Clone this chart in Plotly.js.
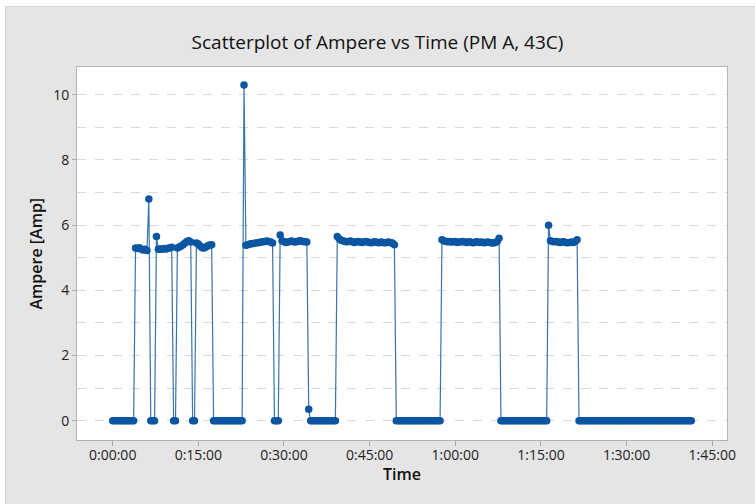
<!DOCTYPE html>
<html>
<head>
<meta charset="utf-8">
<script src="https://cdn.plot.ly/plotly-3.0.1.min.js"></script>
<style>
  html, body { margin: 0; padding: 0; background: #ffffff; }
  #frame { position: absolute; left: 5px; top: 6px; width: 750px; height: 498px;
           background: #e5e5e5; border-left: 1px solid #d2d2d2; border-top: 1px solid #d2d2d2; }
  #chart { position: absolute; left: 0; top: 0; width: 755px; height: 504px; }
</style>
</head>
<body>
<div id="frame"></div>
<div id="chart"></div>
<script>
// Elapsed time of each reading, in seconds
const timeSec = [
  0, 20, 40, 60, 80, 100, 120, 140, 160, 180, 200, 220, 240, 260, 280,
  300, 320, 340, 360, 380, 400, 420, 440, 460, 480, 500, 520, 540, 560, 580,
  600, 620, 640, 660, 680, 700, 720, 740, 760, 780, 800, 820, 840, 860, 880,
  900, 920, 940, 960, 980, 1000, 1020, 1040, 1060, 1080, 1100, 1120, 1140, 1160, 1180,
  1200, 1220, 1240, 1260, 1280, 1300, 1320, 1340, 1360, 1380, 1400, 1420, 1440, 1460, 1480,
  1500, 1520, 1540, 1560, 1580, 1600, 1620, 1640, 1660, 1680, 1700, 1720, 1740, 1760, 1780,
  1800, 1820, 1840, 1860, 1880, 1900, 1920, 1940, 1960, 1980, 2000, 2020, 2040, 2060, 2080,
  2100, 2120, 2140, 2160, 2180, 2200, 2220, 2240, 2260, 2280, 2300, 2320, 2340, 2360, 2380,
  2400, 2420, 2440, 2460, 2480, 2500, 2520, 2540, 2560, 2580, 2600, 2620, 2640, 2660, 2680,
  2700, 2720, 2740, 2760, 2780, 2800, 2820, 2840, 2860, 2880, 2900, 2920, 2940, 2960, 2980,
  3000, 3020, 3040, 3060, 3080, 3100, 3120, 3140, 3160, 3180, 3200, 3220, 3240, 3260, 3280,
  3300, 3320, 3340, 3360, 3380, 3400, 3420, 3440, 3460, 3480, 3500, 3520, 3540, 3560, 3580,
  3600, 3620, 3640, 3660, 3680, 3700, 3720, 3740, 3760, 3780, 3800, 3820, 3840, 3860, 3880,
  3900, 3920, 3940, 3960, 3980, 4000, 4020, 4040, 4060, 4080, 4100, 4120, 4140, 4160, 4180,
  4200, 4220, 4240, 4260, 4280, 4300, 4320, 4340, 4360, 4380, 4400, 4420, 4440, 4460, 4480,
  4500, 4520, 4540, 4560, 4580, 4600, 4620, 4640, 4660, 4680, 4700, 4720, 4740, 4760, 4780,
  4800, 4820, 4840, 4860, 4880, 4900, 4920, 4940, 4960, 4980, 5000, 5020, 5040, 5060, 5080,
  5100, 5120, 5140, 5160, 5180, 5200, 5220, 5240, 5260, 5280, 5300, 5320, 5340, 5360, 5380,
  5400, 5420, 5440, 5460, 5480, 5500, 5520, 5540, 5560, 5580, 5600, 5620, 5640, 5660, 5680,
  5700, 5720, 5740, 5760, 5780, 5800, 5820, 5840, 5860, 5880, 5900, 5920, 5940, 5960, 5980,
  6000, 6020, 6040, 6060, 6080
];

// Measured current at each reading, in amperes
const ampere = [
  0, 0, 0, 0, 0, 0, 0, 0, 0, 0, 0, 0, 5.30, 5.28, 5.31,
  5.27, 5.24, 5.26, 5.22, 6.80, 0, 0, 0, 5.65, 5.26, 5.27, 5.26, 5.28, 5.27, 5.29,
  5.30, 5.32, 0, 0, 5.30, 5.33, 5.36, 5.40, 5.45, 5.50, 5.52, 5.48, 0, 0, 5.45,
  5.42, 5.36, 5.31, 5.30, 5.33, 5.37, 5.39, 5.40, 0, 0, 0, 0, 0, 0, 0,
  0, 0, 0, 0, 0, 0, 0, 0, 0, 10.30, 5.38, 5.40, 5.42, 5.43, 5.44,
  5.45, 5.46, 5.47, 5.48, 5.49, 5.50, 5.51, 5.50, 5.48, 5.45, 0, 0, 0, 5.70, 5.52,
  5.49, 5.47, 5.48, 5.50, 5.51, 5.49, 5.48, 5.50, 5.52, 5.51, 5.50, 5.49, 5.48, 0.35, 0,
  0, 0, 0, 0, 0, 0, 0, 0, 0, 0, 0, 0, 0, 5.65, 5.58,
  5.54, 5.52, 5.50, 5.49, 5.50, 5.51, 5.48, 5.47, 5.49, 5.50, 5.48, 5.47, 5.49, 5.50, 5.48,
  5.47, 5.46, 5.48, 5.49, 5.47, 5.46, 5.48, 5.47, 5.46, 5.47, 5.48, 5.46, 5.45, 5.40, 0,
  0, 0, 0, 0, 0, 0, 0, 0, 0, 0, 0, 0, 0, 0, 0,
  0, 0, 0, 0, 0, 0, 0, 0, 5.55, 5.52, 5.50, 5.49, 5.50, 5.48, 5.49,
  5.50, 5.47, 5.48, 5.49, 5.50, 5.48, 5.47, 5.49, 5.48, 5.46, 5.47, 5.49, 5.48, 5.47, 5.48,
  5.46, 5.47, 5.48, 5.47, 5.46, 5.45, 5.47, 5.50, 5.60, 0, 0, 0, 0, 0, 0,
  0, 0, 0, 0, 0, 0, 0, 0, 0, 0, 0, 0, 0, 0, 0,
  0, 0, 0, 0, 6.00, 5.52, 5.50, 5.49, 5.50, 5.48, 5.47, 5.48, 5.49, 5.47, 5.46,
  5.47, 5.48, 5.47, 5.50, 5.55, 0, 0, 0, 0, 0, 0, 0, 0, 0, 0,
  0, 0, 0, 0, 0, 0, 0, 0, 0, 0, 0, 0, 0, 0, 0,
  0, 0, 0, 0, 0, 0, 0, 0, 0, 0, 0, 0, 0, 0, 0,
  0, 0, 0, 0, 0, 0, 0, 0, 0, 0, 0, 0, 0, 0, 0,
  0, 0, 0, 0, 0
];

// Time axis ticks (seconds) and their h:mm:ss labels
const timeTickSec = [0, 900, 1800, 2700, 3600, 4500, 5400, 6300];
const timeTickText = ['0:00:00', '0:15:00', '0:30:00', '0:45:00', '1:00:00', '1:15:00', '1:30:00', '1:45:00'];

const FONT = '"Open Sans", "Noto Sans", sans-serif';
const AXIS_TITLE_FONT = { family: FONT, size: 16, color: '#111111', weight: 600 };

const trace = {
  type: 'scatter',
  mode: 'lines+markers',
  x: timeSec,
  y: ampere,
  line: { color: '#3a73ad', width: 1.2 },
  marker: { color: '#0b55a2', size: 7.5 },
  hoverinfo: 'skip'
};

const layout = {
  width: 755,
  height: 504,
  paper_bgcolor: 'rgba(0,0,0,0)',
  plot_bgcolor: '#ffffff',
  margin: { l: 77, r: 28, t: 67, b: 64, autoexpand: false },
  showlegend: false,
  font: { family: FONT, color: '#222222', size: 14 },
  title: {
    text: 'Scatterplot of Ampere vs Time (PM A, 43C)',
    font: { family: FONT, size: 19, color: '#111111' },
    x: 0.5, xref: 'container', xanchor: 'center',
    y: 1 - 42 / 504, yref: 'container', yanchor: 'middle'
  },
  xaxis: {
    range: [-375, 6455],
    tickmode: 'array',
    tickvals: timeTickSec,
    ticktext: timeTickText,
    ticks: 'outside', ticklen: 5, tickcolor: '#a8a8a8', tickwidth: 1,
    ticklabelstandoff: -3,
    showgrid: false, zeroline: false,
    showline: true, linecolor: '#b4b4b4', linewidth: 1, mirror: true,
    tickfont: { family: FONT, size: 14, color: '#222222' },
    automargin: false
  },
  yaxis: {
    range: [-0.59, 10.85],
    tickmode: 'linear', tick0: 0, dtick: 2,
    ticks: 'outside', ticklen: 4, tickcolor: '#a8a8a8', tickwidth: 1,
    showgrid: true, gridcolor: '#d9d9d9', griddash: 'dash', gridwidth: 1,
    minor: { dtick: 1, tick0: 0, showgrid: true, gridcolor: '#d9d9d9', griddash: 'dash', gridwidth: 1, ticks: '' },
    zeroline: false,
    showline: true, linecolor: '#b4b4b4', linewidth: 1, mirror: true,
    tickfont: { family: FONT, size: 14, color: '#222222' },
    automargin: false
  },
  // Axis titles placed as annotations so their spacing from the tick labels is exact
  annotations: [
    { text: 'Time', xref: 'paper', yref: 'paper', x: 0.5, y: -34 / 373,
      xanchor: 'center', yanchor: 'middle', showarrow: false, font: AXIS_TITLE_FONT },
    { text: 'Ampere [Amp]', xref: 'paper', yref: 'paper', x: -42 / 650, y: 0.5,
      xanchor: 'center', yanchor: 'middle', textangle: -90, showarrow: false, font: AXIS_TITLE_FONT }
  ]
};

Plotly.newPlot('chart', [trace], layout, { staticPlot: true, displayModeBar: false });
</script>
</body>
</html>
